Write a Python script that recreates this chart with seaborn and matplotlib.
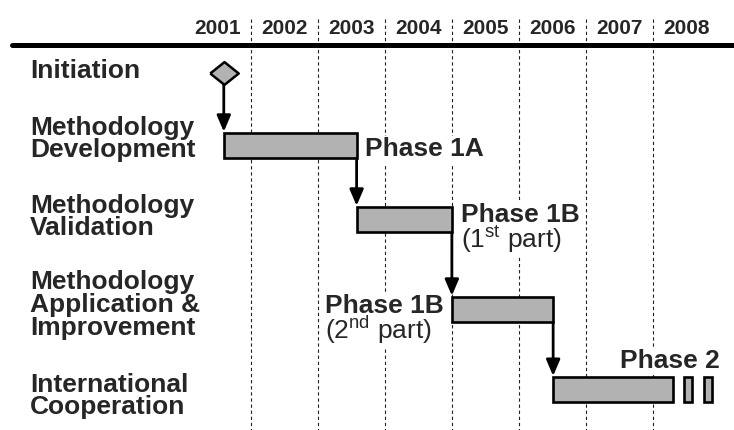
import numpy as np
import matplotlib
matplotlib.use("Agg")
import matplotlib.pyplot as plt
import matplotlib.transforms as mtransforms
from matplotlib.patches import Rectangle
from matplotlib.path import Path
import seaborn as sns

# ---- data ----
years = [2001, 2002, 2003, 2004, 2005, 2006, 2007, 2008]
rows = [
    "Initiation",
    "Methodology\nDevelopment",
    "Methodology\nValidation",
    "Methodology\nApplication &\nImprovement",
    "International\nCooperation",
]
initiation_year = 2001.6
phase_start = [2001.6, 2003.58, 2005.0, 2006.51]
phase_end = [2003.58, 2005.0, 2006.51, 2008.29]
phase_names = ["Phase 1A", "Phase 1B", "Phase 1B", "Phase 2"]
phase_parts = ["", "(1$^{\\mathrm{st}}$ part)", "(2$^{\\mathrm{nd}}$ part)", ""]
cont_start = [2008.46, 2008.755]
cont_end = [2008.585, 2008.88]

# ---- layout (y in pixels from the top) ----
W, H = 734, 430
row_y = [72.5, 145.5, 219.5, 309.5, 389.7]
row_label_base = [78.3, 135.0, 212.5, 289.5, 391.5]
line_step = 22.5
bar_h = 25.5
phase_label_x = [2003.70, 2005.143, 2003.11, 2007.505]
phase_label_base = [156.5, 221.7, 313.3, 368.3]
part_gap = 26
gray = "#b2b2b2"

sns.set_theme(style="white")
plt.rcParams["font.family"] = ["Liberation Sans", "DejaVu Sans"]
plt.rcParams["mathtext.fontset"] = "custom"
plt.rcParams["mathtext.rm"] = "Liberation Sans"

fig = plt.figure(figsize=(W / 100, H / 100), dpi=100)
ax = fig.add_axes([0, 0, 1, 1])
ax.set_xlim(1998.264, 2009.206)
ax.set_ylim(H, 0)
ax.axis("off")

# year grid
ax.vlines(years[1:], 19, H, colors="#222222", linestyles=(0, (3, 2.5)),
          lw=0.8, zorder=1)
ax.axhline(45, xmin=12 / W, xmax=1, color="black", lw=3.6, zorder=6)

for y in years:
    ax.text(y + 0.5, 34.5, str(y), ha="center", va="baseline",
            fontsize=15, fontweight="bold", zorder=7)

# row labels
lab_tr = mtransforms.blended_transform_factory(ax.transAxes, ax.transData)
for lab, base in zip(rows, row_label_base):
    for k, line in enumerate(lab.split("\n")):
        ax.text(30 / W, base + k * line_step, line, transform=lab_tr,
                ha="left", va="baseline", fontsize=19, fontweight="bold")

# bars
ax.barh(row_y[1:], np.subtract(phase_end, phase_start), left=phase_start,
        height=bar_h, color=gray, edgecolor="black", linewidth=1.9, zorder=4)
ax.barh([row_y[4]] * len(cont_start), np.subtract(cont_end, cont_start),
        left=cont_start, height=bar_h, color=gray, edgecolor="black",
        linewidth=1.9, zorder=4)

# initiation diamond
diamond = Path([(-1, 0), (0, 0.8), (1, 0), (0, -0.8), (-1, 0)])
sns.scatterplot(x=[initiation_year], y=[row_y[0]], marker=diamond, s=420,
                color=gray, edgecolor="black", linewidth=1.8, ax=ax,
                zorder=5, legend=False)

# arrows
arrow_x = [initiation_year] + phase_end[:-1]
arrow_y0 = [row_y[0] + 12] + [r + bar_h / 2 for r in row_y[1:4]]
arrow_y1 = [r - bar_h / 2 - 1 for r in row_y[1:]]
for x, y0, y1 in zip(arrow_x, arrow_y0, arrow_y1):
    ax.annotate("", xy=(x, y1), xytext=(x, y0), zorder=5,
                arrowprops=dict(arrowstyle="-|>,head_length=0.75,head_width=0.32",
                                mutation_scale=13, lw=2.0, color="black",
                                shrinkA=0, shrinkB=0))

# phase labels
phase_texts = []
for name, part, x, base in zip(phase_names, phase_parts, phase_label_x,
                               phase_label_base):
    phase_texts.append(ax.text(x, base, name, ha="left", va="baseline",
                               fontsize=19, fontweight="bold", zorder=3))
    if part:
        phase_texts.append(ax.text(x, base + part_gap, part, ha="left",
                                   va="baseline", fontsize=19, zorder=3))

# white patches behind the phase labels so the grid does not run through them
fig.canvas.draw()
for t in phase_texts:
    bb = t.get_window_extent().padded(2)
    ax.add_patch(Rectangle((bb.x0, bb.y0), bb.width, bb.height, fc="white",
                           ec="none", zorder=2,
                           transform=mtransforms.IdentityTransform()))

plt.savefig("out.png", dpi=100)
plt.close()
